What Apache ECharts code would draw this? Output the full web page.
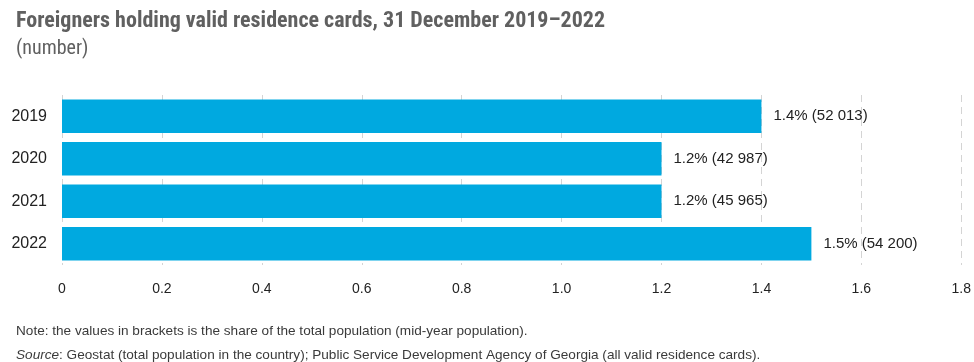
<!DOCTYPE html>
<html>
<head>
<meta charset="utf-8">
<script src="https://cdn.jsdelivr.net/npm/echarts@6/dist/echarts.min.js"></script>
<style>
  html, body { margin: 0; padding: 0; background: #fff; }
  #chart { width: 974px; height: 362px; }
</style>
</head>
<body>
<div id="chart"></div>
<script>
// Residence-card holders by year: share of population (%) and absolute count
const years = ['2019', '2020', '2021', '2022'];
const sharePct = [1.4, 1.2, 1.2, 1.5];
const cardCounts = ['52 013', '42 987', '45 965', '54 200'];
const xTicks = ['0', '0.2', '0.4', '0.6', '0.8', '1.0', '1.2', '1.4', '1.6', '1.8'];

const FONT = '"Liberation Sans", Arial, sans-serif';
const NARROW = '"Roboto Condensed", "Liberation Sans Narrow", "Liberation Sans", sans-serif';

const chart = echarts.init(document.getElementById('chart'), null, { renderer: 'canvas' });

chart.setOption({
  animation: false,
  textStyle: { fontFamily: FONT },
  title: [
    {
      text: 'Foreigners holding valid residence cards, 31 December 2019\u20132022',
      left: 11, top: 5,
      textStyle: { fontFamily: NARROW, fontSize: 22, fontWeight: 'bold', color: '#606060' }
    },
    {
      text: '(number)',
      left: 11, top: 34,
      textStyle: { fontFamily: NARROW, fontSize: 20, fontWeight: 'normal', color: '#606060' }
    },
    {
      text: 'Note: the values in brackets is the share of the total population (mid-year population).',
      left: 11, top: 319,
      textStyle: { fontFamily: FONT, fontSize: 13.6, fontWeight: 'normal', color: '#3a3a3a' }
    },
    {
      text: '{i|Source}: Geostat (total population in the country); Public Service Development Agency of Georgia (all valid residence cards).',
      left: 11, top: 343,
      textStyle: {
        fontFamily: FONT, fontSize: 13.6, fontWeight: 'normal', color: '#3a3a3a',
        rich: { i: { fontFamily: FONT, fontSize: 13.6, fontStyle: 'italic', color: '#3a3a3a' } }
      }
    }
  ],
  grid: { left: 62, right: 12, top: 95, bottom: 97 },
  xAxis: {
    type: 'value',
    min: 0, max: 1.8, interval: 0.2,
    axisLine: { show: false },
    axisTick: { show: false },
    axisLabel: {
      margin: 17,
      fontFamily: FONT, fontSize: 14, color: '#222',
      formatter: (v) => xTicks[Math.round(v / 0.2)]
    },
    splitLine: { show: true, lineStyle: { color: '#d4d4d4', type: [7, 5], width: 1 } }
  },
  yAxis: {
    type: 'category',
    data: years,
    inverse: true,
    axisLine: { show: false },
    axisTick: { show: false },
    axisLabel: { margin: 15, fontFamily: FONT, fontSize: 16, color: '#222' }
  },
  series: [{
    type: 'bar',
    data: sharePct,
    barWidth: '79%',
    itemStyle: { color: '#00a9e0' },
    label: {
      show: true,
      position: 'right',
      distance: 12,
      fontFamily: FONT, fontSize: 15, color: '#222',
      formatter: (p) => p.value.toFixed(1) + '% (' + cardCounts[p.dataIndex] + ')'
    }
  }]
});
</script>
</body>
</html>
